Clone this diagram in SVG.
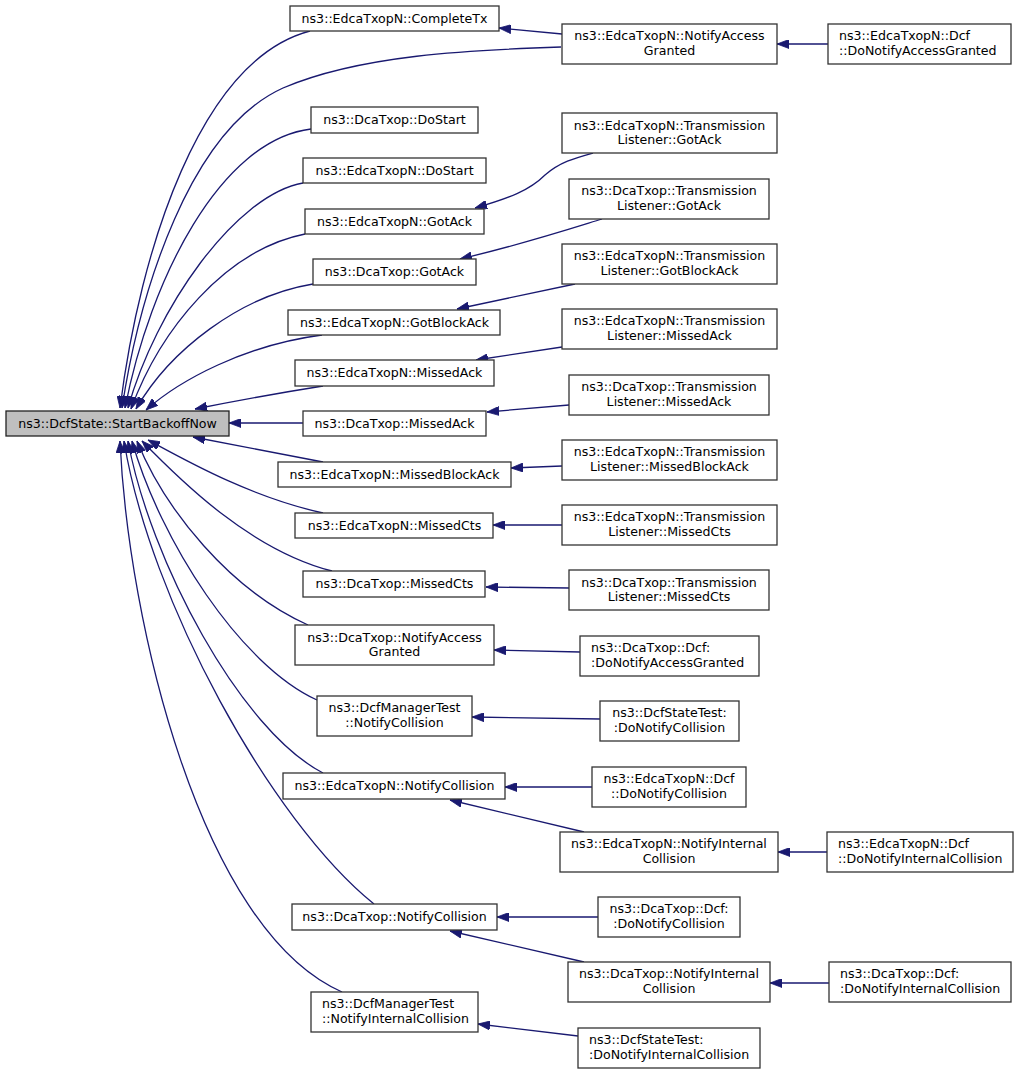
<svg xmlns="http://www.w3.org/2000/svg" width="1019" height="1073" viewBox="0 0 1019 1073">
<style>
.n rect{fill:#ffffff;stroke:#333333;stroke-width:1.3}
.n.root rect{fill:#bfbfbf;stroke:#222222}
text{font-family:"DejaVu Sans","Liberation Sans",sans-serif;font-size:12.6px;fill:#000000}
.c{text-anchor:middle}
.l{text-anchor:start}
#edges path{fill:none;stroke:#191970;stroke-width:1.3;marker-start:url(#ah)}
</style>
<defs>
<marker id="ah" markerUnits="userSpaceOnUse" markerWidth="12" markerHeight="9" viewBox="0 0 12 9" refX="12" refY="4.5" orient="auto-start-reverse">
<path d="M0,0 L12,4.5 L0,9 z" fill="#191970" stroke="#191970" stroke-width="0.8"/>
</marker>
</defs>
<rect x="0" y="0" width="1019" height="1073" fill="#ffffff"/>
<g id="edges">
<path d="M120,408 C140,250 200,60 310,31"/>
<path d="M122,408 C140,290 190,130 283,88 C360,55 470,50 561,47"/>
<path d="M125,408 C150,280 220,140 311,129"/>
<path d="M128,408 C155,310 235,195 303,183"/>
<path d="M131,409 C160,330 225,250 305,234"/>
<path d="M136,409 C170,350 240,296 313,284"/>
<path d="M146,410 C180,380 245,345 322,335"/>
<path d="M195,409 C240,400 285,392 323,386"/>
<path d="M229,423 L303,423"/>
<path d="M193,437 C240,446 285,455 323,462"/>
<path d="M148,440 C185,460 250,497 323,513"/>
<path d="M142,441 C180,480 250,550 332,571"/>
<path d="M137,441 C165,510 230,590 308,625"/>
<path d="M132,441 C160,540 240,665 317,700"/>
<path d="M128,441 C150,560 240,730 323,773"/>
<path d="M124,441 C150,600 270,820 374,904"/>
<path d="M120,441 C128,620 200,930 342,992"/>
<path d="M499,28 L562,34"/>
<path d="M777,44 L828,44"/>
<path d="M475,208 C510,198 530,190 545,175 C560,162 575,158 593,153"/>
<path d="M460,259 C520,245 560,232 602,219"/>
<path d="M457,309 L575,284"/>
<path d="M476,360 L562,347"/>
<path d="M487,412 L569,405"/>
<path d="M511,468 L562,466"/>
<path d="M493,525 L562,525"/>
<path d="M486,587 L569,588"/>
<path d="M494,650 L580,652"/>
<path d="M472,717 L600,719"/>
<path d="M505,787 L592,787"/>
<path d="M450,800 L584,832"/>
<path d="M778,852 L827,852"/>
<path d="M497,917 L598,917"/>
<path d="M450,931 L584,962"/>
<path d="M770,983 L829,983"/>
<path d="M478,1024 L578,1036"/>
</g>
<g id="root" class="n root"><rect x="6" y="411" width="223" height="25"/><text class="c" x="117.5" y="427.5">ns3::DcfState::StartBackoffNow</text></g>
<g id="n1" class="n"><rect x="290" y="6" width="209" height="25"/><text class="c" x="394.5" y="23">ns3::EdcaTxopN::CompleteTx</text></g>
<g id="n2" class="n"><rect x="311" y="107" width="167" height="26"/><text class="c" x="394.5" y="124">ns3::DcaTxop::DoStart</text></g>
<g id="n3" class="n"><rect x="303" y="158" width="183" height="25"/><text class="c" x="394.5" y="175">ns3::EdcaTxopN::DoStart</text></g>
<g id="n4" class="n"><rect x="305" y="209" width="179" height="25"/><text class="c" x="394.5" y="226">ns3::EdcaTxopN::GotAck</text></g>
<g id="n5" class="n"><rect x="313" y="259" width="163" height="26"/><text class="c" x="394.5" y="276">ns3::DcaTxop::GotAck</text></g>
<g id="n6" class="n"><rect x="288" y="310" width="212" height="25"/><text class="c" x="394.5" y="327">ns3::EdcaTxopN::GotBlockAck</text></g>
<g id="n7" class="n"><rect x="295" y="360" width="199" height="26"/><text class="c" x="394.5" y="377">ns3::EdcaTxopN::MissedAck</text></g>
<g id="n8" class="n"><rect x="303" y="411" width="183" height="25"/><text class="c" x="394.5" y="428">ns3::DcaTxop::MissedAck</text></g>
<g id="n9" class="n"><rect x="278" y="462" width="233" height="25"/><text class="c" x="394.5" y="479">ns3::EdcaTxopN::MissedBlockAck</text></g>
<g id="n10" class="n"><rect x="295" y="513" width="198" height="25"/><text class="c" x="394.5" y="530">ns3::EdcaTxopN::MissedCts</text></g>
<g id="n11" class="n"><rect x="303" y="571" width="182" height="26"/><text class="c" x="394.5" y="588">ns3::DcaTxop::MissedCts</text></g>
<g id="n12" class="n"><rect x="295" y="625" width="199" height="40"/><text class="c" x="394.5" y="641.5">ns3::DcaTxop::NotifyAccess</text><text class="c" x="394.5" y="656">Granted</text></g>
<g id="n13" class="n"><rect x="317" y="696" width="155" height="40"/><text class="c" x="394.5" y="712">ns3::DcfManagerTest</text><text class="c" x="394.5" y="726.5">::NotifyCollision</text></g>
<g id="n14" class="n"><rect x="283" y="773" width="222" height="26"/><text class="c" x="394.5" y="790">ns3::EdcaTxopN::NotifyCollision</text></g>
<g id="n15" class="n"><rect x="292" y="904" width="205" height="26"/><text class="c" x="394.5" y="921">ns3::DcaTxop::NotifyCollision</text></g>
<g id="n16" class="n"><rect x="311" y="992" width="167" height="40"/><text class="l" x="322" y="1008">ns3::DcfManagerTest</text><text class="l" x="322" y="1023">::NotifyInternalCollision</text></g>
<g id="m1" class="n"><rect x="562" y="24" width="215" height="40"/><text class="c" x="669.5" y="40">ns3::EdcaTxopN::NotifyAccess</text><text class="c" x="669.5" y="55">Granted</text></g>
<g id="m2" class="n"><rect x="828" y="24" width="183" height="40"/><text class="l" x="839" y="40">ns3::EdcaTxopN::Dcf</text><text class="l" x="839" y="55">::DoNotifyAccessGranted</text></g>
<g id="m3" class="n"><rect x="562" y="113" width="215" height="40"/><text class="c" x="669.5" y="129.5">ns3::EdcaTxopN::Transmission</text><text class="c" x="669.5" y="144">Listener::GotAck</text></g>
<g id="m4" class="n"><rect x="569" y="179" width="200" height="40"/><text class="c" x="669" y="195">ns3::DcaTxop::Transmission</text><text class="c" x="669" y="209.5">Listener::GotAck</text></g>
<g id="m5" class="n"><rect x="562" y="244" width="215" height="40"/><text class="c" x="669.5" y="260">ns3::EdcaTxopN::Transmission</text><text class="c" x="669.5" y="275">Listener::GotBlockAck</text></g>
<g id="m6" class="n"><rect x="562" y="309" width="215" height="40"/><text class="c" x="669.5" y="325">ns3::EdcaTxopN::Transmission</text><text class="c" x="669.5" y="340">Listener::MissedAck</text></g>
<g id="m7" class="n"><rect x="569" y="375" width="200" height="40"/><text class="c" x="669" y="391">ns3::DcaTxop::Transmission</text><text class="c" x="669" y="405.5">Listener::MissedAck</text></g>
<g id="m8" class="n"><rect x="562" y="440" width="215" height="40"/><text class="c" x="669.5" y="456">ns3::EdcaTxopN::Transmission</text><text class="c" x="669.5" y="471">Listener::MissedBlockAck</text></g>
<g id="m9" class="n"><rect x="562" y="505" width="215" height="40"/><text class="c" x="669.5" y="521">ns3::EdcaTxopN::Transmission</text><text class="c" x="669.5" y="536">Listener::MissedCts</text></g>
<g id="m10" class="n"><rect x="569" y="570" width="200" height="40"/><text class="c" x="669" y="586.5">ns3::DcaTxop::Transmission</text><text class="c" x="669" y="601">Listener::MissedCts</text></g>
<g id="m11" class="n"><rect x="580" y="636" width="179" height="40"/><text class="l" x="591" y="652">ns3::DcaTxop::Dcf:</text><text class="l" x="591" y="667">:DoNotifyAccessGranted</text></g>
<g id="m12" class="n"><rect x="600" y="701" width="139" height="40"/><text class="c" x="669.5" y="717">ns3::DcfStateTest:</text><text class="c" x="669.5" y="732">:DoNotifyCollision</text></g>
<g id="m13" class="n"><rect x="592" y="767" width="154" height="40"/><text class="c" x="669" y="783">ns3::EdcaTxopN::Dcf</text><text class="c" x="669" y="797.5">::DoNotifyCollision</text></g>
<g id="m14" class="n"><rect x="560" y="832" width="218" height="40"/><text class="c" x="669" y="848">ns3::EdcaTxopN::NotifyInternal</text><text class="c" x="669" y="863">Collision</text></g>
<g id="m15" class="n"><rect x="827" y="832" width="186" height="40"/><text class="l" x="838" y="848">ns3::EdcaTxopN::Dcf</text><text class="l" x="838" y="863">::DoNotifyInternalCollision</text></g>
<g id="m16" class="n"><rect x="598" y="897" width="142" height="40"/><text class="c" x="669" y="913">ns3::DcaTxop::Dcf:</text><text class="c" x="669" y="927.5">:DoNotifyCollision</text></g>
<g id="m17" class="n"><rect x="568" y="962" width="202" height="40"/><text class="c" x="669" y="978">ns3::DcaTxop::NotifyInternal</text><text class="c" x="669" y="993">Collision</text></g>
<g id="m18" class="n"><rect x="829" y="962" width="182" height="40"/><text class="l" x="840" y="978">ns3::DcaTxop::Dcf:</text><text class="l" x="840" y="993">:DoNotifyInternalCollision</text></g>
<g id="m19" class="n"><rect x="578" y="1028" width="182" height="40"/><text class="l" x="589" y="1044">ns3::DcfStateTest:</text><text class="l" x="589" y="1058.5">:DoNotifyInternalCollision</text></g>
</svg>
